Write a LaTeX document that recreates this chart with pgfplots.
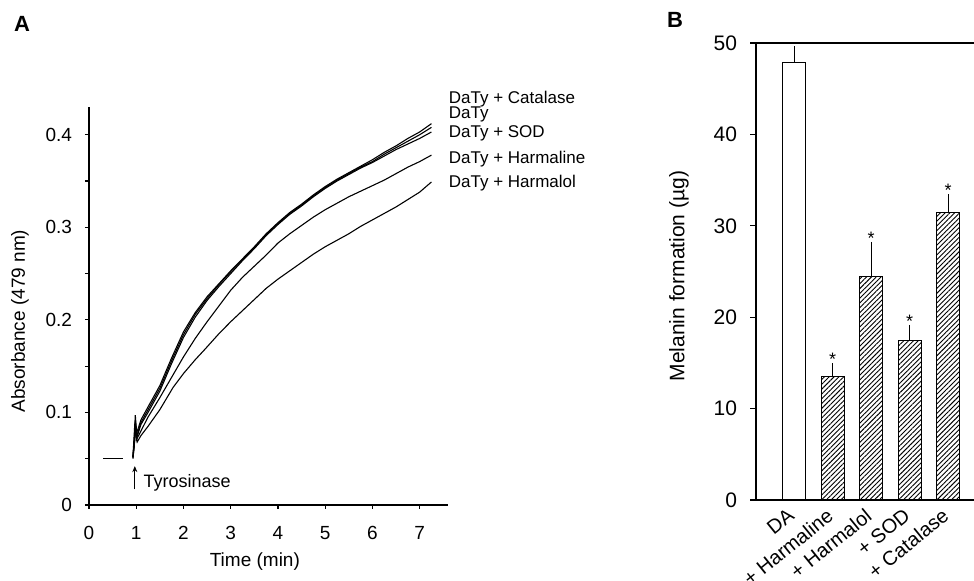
\documentclass[border=0pt]{standalone}
\usepackage{pgfplots}
\pgfplotsset{compat=1.18}
\usepackage{fontspec}
\setmainfont{Liberation Sans}
\usetikzlibrary{patterns.meta,arrows.meta}

\begin{document}
\begin{tikzpicture}
\path[use as bounding box] (0,0) rectangle (487pt,290.5pt);

% ---------------- Panel A ----------------
\begin{axis}[
  at={(44.5pt,38pt)}, anchor=south west,
  scale only axis, width=179.5pt, height=199pt,
  xmin=0, xmax=7.6, ymin=0, ymax=0.43,
  axis lines=left, axis line style={-, line width=0.7pt},
  tick align=outside,
  xtick={0,1,...,7},
  ytick={0,0.1,0.2,0.3,0.4},
  minor y tick num=1,
  major tick length=2pt, minor tick length=2pt,
  tick style={line width=0.6pt, black},
  /pgf/number format/assume math mode=true,
  ticklabel style={font=\fontsize{9.5}{11}\selectfont},
  yticklabel shift=3pt,
  xticklabel shift=5pt,
  xlabel={Time (min)},
  ylabel={Absorbance (479 nm)},
  label style={font=\fontsize{9.5}{11}\selectfont},
  xlabel style={at={(axis description cs:0.462,-0.143)}, anchor=center},
  ylabel style={at={(axis description cs:-0.192,0.462)}, anchor=center},
  clip=false,
  every axis plot/.append style={line width=0.55pt, black},
]
% baseline before enzyme
\addplot[no marks] coordinates {(0.30,0.050) (0.72,0.050)};
% DaTy + Catalase
\addplot[no marks] coordinates {
(0.93,0.052) (0.96,0.070) (0.98,0.097) (1.01,0.078) (1.05,0.084) (1.10,0.092)
(1.25,0.106) (1.50,0.129) (1.75,0.159) (2.00,0.187) (2.25,0.208) (2.50,0.225)
(2.75,0.239) (3.00,0.253) (3.25,0.266) (3.50,0.279) (3.75,0.293) (4.00,0.305)
(4.25,0.316) (4.50,0.325) (4.75,0.335) (5.00,0.344) (5.25,0.352) (5.50,0.359)
(5.75,0.366) (6.00,0.373) (6.25,0.381) (6.50,0.388) (6.75,0.396) (7.00,0.403) (7.25,0.412)};
% DaTy
\addplot[no marks] coordinates {
(0.93,0.050) (0.96,0.066) (0.98,0.092) (1.01,0.074) (1.05,0.081) (1.10,0.089)
(1.25,0.103) (1.50,0.126) (1.75,0.156) (2.00,0.184) (2.25,0.206) (2.50,0.223)
(2.75,0.238) (3.00,0.252) (3.25,0.265) (3.50,0.278) (3.75,0.292) (4.00,0.304)
(4.25,0.315) (4.50,0.324) (4.75,0.334) (5.00,0.343) (5.25,0.351) (5.50,0.358)
(5.75,0.365) (6.00,0.371) (6.25,0.379) (6.50,0.386) (6.75,0.393) (7.00,0.400) (7.25,0.408)};
% DaTy + SOD
\addplot[no marks] coordinates {
(0.93,0.051) (0.96,0.064) (0.98,0.088) (1.01,0.072) (1.05,0.079) (1.10,0.087)
(1.25,0.100) (1.50,0.123) (1.75,0.153) (2.00,0.181) (2.25,0.203) (2.50,0.221)
(2.75,0.236) (3.00,0.250) (3.25,0.264) (3.50,0.277) (3.75,0.291) (4.00,0.303)
(4.25,0.314) (4.50,0.323) (4.75,0.333) (5.00,0.342) (5.25,0.350) (5.50,0.357)
(5.75,0.364) (6.00,0.370) (6.25,0.377) (6.50,0.384) (6.75,0.390) (7.00,0.396) (7.25,0.403)};
% DaTy + Harmaline
\addplot[no marks] coordinates {
(0.93,0.052) (0.97,0.088) (1.00,0.070) (1.10,0.080) (1.25,0.095) (1.50,0.116)
(1.75,0.138) (2.00,0.160) (2.25,0.180) (2.50,0.198) (2.75,0.215) (3.00,0.232)
(3.25,0.246) (3.50,0.258) (3.75,0.270) (4.00,0.283) (4.25,0.293) (4.50,0.302)
(4.75,0.311) (5.00,0.319) (5.25,0.326) (5.50,0.333) (5.75,0.339) (6.00,0.345)
(6.25,0.351) (6.50,0.358) (6.75,0.365) (7.00,0.371) (7.25,0.378)};
% DaTy + Harmalol
\addplot[no marks] coordinates {
(0.93,0.052) (0.98,0.083) (1.02,0.068) (1.10,0.075) (1.25,0.085) (1.50,0.103)
(1.78,0.127) (2.00,0.142) (2.25,0.157) (2.45,0.168) (2.75,0.185) (3.00,0.198)
(3.25,0.210) (3.50,0.222) (3.75,0.234) (4.00,0.244) (4.25,0.253) (4.50,0.262)
(4.75,0.271) (5.00,0.279) (5.25,0.286) (5.50,0.293) (5.75,0.301) (6.00,0.308)
(6.25,0.315) (6.50,0.322) (6.75,0.330) (7.00,0.338) (7.25,0.349)};

\begin{scope}[font=\fontsize{8.5}{10}\selectfont]
\node[anchor=west, inner sep=0pt] at (axis cs:7.61,0.439) {DaTy + Catalase};
\node[anchor=west, inner sep=0pt] at (axis cs:7.61,0.422) {DaTy};
\node[anchor=west, inner sep=0pt] at (axis cs:7.61,0.402) {DaTy + SOD};
\node[anchor=west, inner sep=0pt] at (axis cs:7.61,0.374) {DaTy + Harmaline};
\node[anchor=west, inner sep=0pt] at (axis cs:7.61,0.348) {DaTy + Harmalol};
\end{scope}
\draw[-{Stealth[length=3pt,width=2.5pt]}, line width=0.6pt] (axis cs:0.97,0.017) -- (axis cs:0.97,0.042);
\node[anchor=west, inner sep=0pt, font=\fontsize{9}{10}\selectfont] at (axis cs:1.15,0.024) {Tyrosinase};
\end{axis}

\node[font=\fontsize{11}{12}\selectfont\bfseries] at (11pt,278.5pt) {A};
\node[font=\fontsize{11}{12}\selectfont\bfseries] at (337.5pt,280.5pt) {B};

% ---------------- Panel B ----------------
\begin{axis}[
  at={(378pt,40.5pt)}, anchor=south west,
  scale only axis, width=109pt, height=228.5pt,
  xmin=-0.99, xmax=4.67, ymin=0, ymax=50,
  axis lines=left, axis line style={-, line width=0.7pt},
  tick align=outside,
  ytick={0,10,...,50},
  xtick={0,1,2,3,4},
  xticklabels={DA,+ Harmaline,+ Harmalol,+ SOD,+ Catalase},
  x tick style={draw=none},
  major tick length=3pt,
  tick style={line width=0.6pt, black},
  /pgf/number format/assume math mode=true,
  yticklabel style={font=\fontsize{10.5}{12}\selectfont},
  yticklabel shift=3pt,
  xticklabel style={font=\fontsize{10}{11}\selectfont, rotate=39, anchor=north east, inner sep=1pt, xshift=-2pt, yshift=3pt},
  ylabel={Melanin formation (µg)},
  ylabel style={font=\fontsize{10.5}{12}\selectfont, at={(axis description cs:-0.353,0.49)}, anchor=center},
  clip=false,
]
\addplot[ybar, bar width=0.6, bar shift=0pt, draw=black, fill=white, line width=0.5pt,
  error bars/.cd, y dir=plus, y explicit,
  error bar style={line width=0.6pt, black},
  error mark options={line width=0.6pt, mark size=3pt, black}]
  coordinates {(0,47.9) +- (0,1.1)};
\addplot[ybar, bar width=0.6, bar shift=0pt, draw=black, line width=0.5pt,
  pattern={Lines[angle=45, distance=1.7pt, line width=0.45pt]},
  error bars/.cd, y dir=plus, y explicit,
  error bar style={line width=0.6pt, black},
  error mark options={line width=0.6pt, mark size=2.5pt, black}]
  coordinates {(1,13.5) +- (0,0.9) (2,24.4) +- (0,3.3) (3,17.5) +- (0,1.1) (4,31.5) +- (0,1.4)};
\addplot[draw=none, mark=none, nodes near coords={*},
  every node near coord/.append style={font=\fontsize{9}{10}\selectfont, anchor=south, inner sep=1pt}]
  coordinates {(1,14.4) (2,27.7) (3,18.6) (4,32.9)};
\draw[line width=0.7pt] (rel axis cs:0,1) -- (rel axis cs:1,1);
\end{axis}
\end{tikzpicture}
\end{document}
